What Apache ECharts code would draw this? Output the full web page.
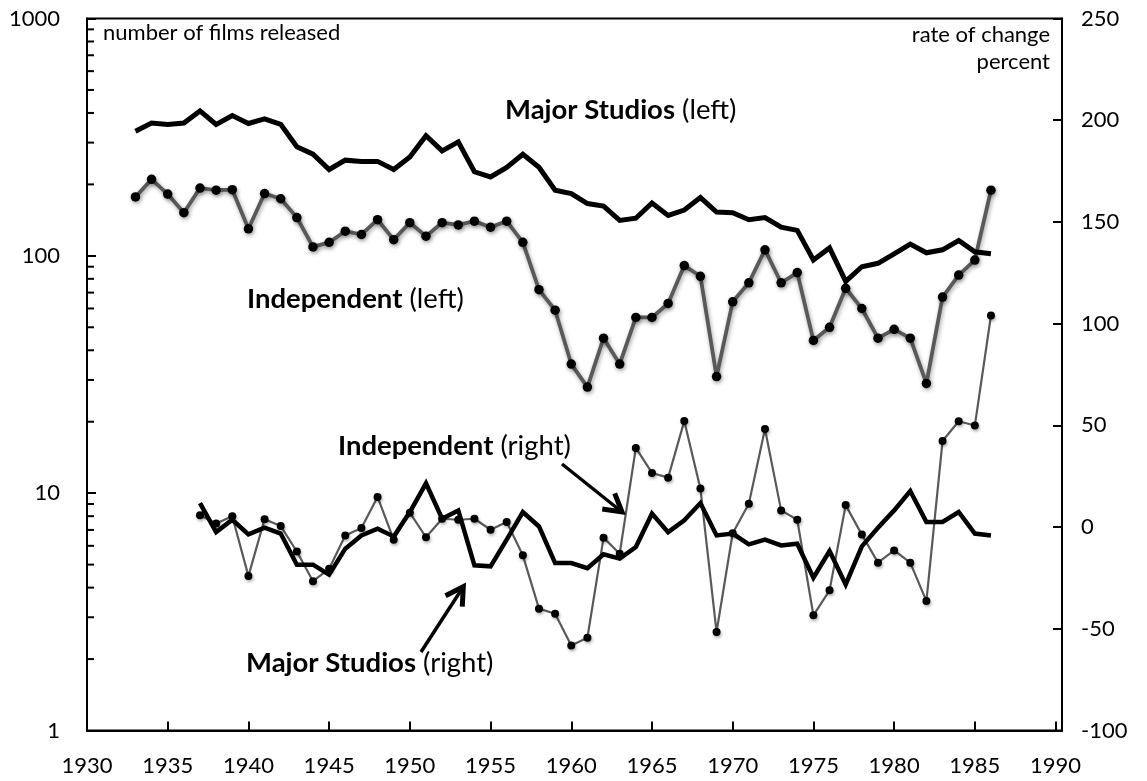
<!DOCTYPE html>
<html>
<head>
<meta charset="utf-8">
<script src="https://cdn.jsdelivr.net/npm/echarts@6.0.0/dist/echarts.min.js"></script>
<style>
html,body{margin:0;padding:0;background:#fff;}
#chart{width:1147px;height:781px;}
</style>
</head>
<body>
<div id="chart"></div>
<script>
// ---------- data ----------
const years = [1933,1934,1935,1936,1937,1938,1939,1940,1941,1942,
  1943,1944,1945,1946,1947,1948,1949,1950,1951,1952,
  1953,1954,1955,1956,1957,1958,1959,1960,1961,1962,
  1963,1964,1965,1966,1967,1968,1969,1970,1971,1972,
  1973,1974,1975,1976,1977,1978,1979,1980,1981,1982,
  1983,1984,1985,1986];
const majorFilms = [335,363,358,363,408,358,390,361,378,358,
  288,268,231,253,250,250,231,261,321,277,
  302,226,215,236,268,236,189,183,166,162,
  141,144,167,148,156,176,153,152,142,145,
  132,128,96,108,78,90,93,102,112,103,
  106,116,104,102];
const independentFilms = [177,210,182,152,193,189,190,130,183,174,
  145,109,114,127,123,142,117,138,121,138,
  135,140,132,140,114,72,59,35,28,45,
  35,55,55,63,91,82,31,64,77,106,
  77,85,44,50,73,60,45,49,45,29,
  67,83,96,189];
const rateYears = [1937,1938,1939,1940,1941,1942,
  1943,1944,1945,1946,1947,1948,1949,1950,1951,1952,
  1953,1954,1955,1956,1957,1958,1959,1960,1961,1962,
  1963,1964,1965,1966,1967,1968,1969,1970,1971,1972,
  1973,1974,1975,1976,1977,1978,1979,1980,1981,1982,
  1983,1984,1985,1986];
const majorRate = [11.8,-2.5,3.6,-3.6,-0.3,-3.2,
  -18.5,-18.5,-23.4,-10.6,-4.1,-0.8,-4.6,7.4,21.5,4.1,
  8.2,-18.8,-19.3,-6.2,7.4,0.3,-17.7,-17.7,-20.2,-13.4,
  -15.5,-9.8,6.6,-2.5,3.3,11.8,-4.1,-3.2,-8.5,-6.2,
  -9.0,-8.2,-24.9,-11.8,-28.2,-9.5,-0.3,8.2,17.7,2.5,
  2.5,7.4,-3.2,-4.1];
const independentRate = [5.8,1.7,5.3,-24.1,3.9,0.5,
  -12.0,-26.6,-20.5,-4.1,-0.5,14.8,-6.2,7.1,-5.0,4.1,
  3.6,4.1,-1.3,2.5,-13.9,-40.1,-42.6,-58.2,-54.4,-5.2,
  -13.1,38.9,26.6,24.3,52.1,18.9,-51.6,-3.0,11.5,48.2,
  8.2,3.6,-43.4,-31.1,10.8,-3.7,-17.5,-11.5,-17.5,-36.4,
  42.3,52.0,49.9,104.0];
const xTickLabels = [1930,1935,1940,1945,1950,1955,1960,1965,1970,1975,1980,1985,1990];
const leftTickLabels = [1,10,100,1000];
const rightTickLabels = [-100,-50,0,50,100,150,200,250];
const leftMinorTicks = [2,3,4,5,6,7,8,9,20,30,40,50,60,70,80,90,200,300,400,500,600,700,800,900];

// ---------- chart ----------
const FONT = 'Lato';
const pair = (xs, ys) => xs.map((x, i) => [x, ys[i]]);
const chart = echarts.init(document.getElementById('chart'), null, {renderer: 'canvas'});

const axisLineStyle = {color: '#000', width: 2};
const labelBase = {color: '#000', fontSize: 22, fontFamily: FONT};

function arrow(tail, head, barb) {
  const dx = head[0] - tail[0], dy = head[1] - tail[1];
  const len = Math.sqrt(dx * dx + dy * dy);
  const ux = -dx / len, uy = -dy / len;
  const a = Math.PI / 6;
  const b1 = [head[0] + barb * (Math.cos(a) * ux - Math.sin(a) * uy), head[1] + barb * (Math.sin(a) * ux + Math.cos(a) * uy)];
  const b2 = [head[0] + barb * (Math.cos(-a) * ux - Math.sin(-a) * uy), head[1] + barb * (Math.sin(-a) * ux + Math.cos(-a) * uy)];
  return [
    {type: 'polyline', shape: {points: [tail, head]}, style: {stroke: '#000', lineWidth: 3.5, fill: null}, z: 100},
    {type: 'polyline', shape: {points: [b1, head, b2]}, style: {stroke: '#000', lineWidth: 5, fill: null, lineJoin: 'miter'}, z: 100}
  ];
}

function note(x, y, bold, rest, size) {
  return {
    type: 'text', x: x, y: y, z: 100,
    style: {
      text: '{b|' + bold + '}' + rest,
      rich: {b: {fontWeight: 'bold', fontSize: size, fontFamily: FONT, fill: '#000'}},
      fontSize: size, fontFamily: FONT, fill: '#000',
      align: 'left', verticalAlign: 'middle'
    }
  };
}

const option = {
  backgroundColor: '#fff',
  animation: false,
  grid: {left: 87, right: 85, top: 18.5, bottom: 50.5, show: true, borderColor: '#000', borderWidth: 2, containLabel: false},
  xAxis: {
    type: 'value', min: 1930, max: 1990.4, interval: 5,
    axisLine: {show: true, onZero: false, lineStyle: axisLineStyle},
    axisTick: {show: true, inside: true, length: 9, lineStyle: {color: '#000', width: 2}},
    axisLabel: Object.assign({}, labelBase, {margin: 24, showMaxLabel: true,
      formatter: v => xTickLabels.indexOf(Math.round(v * 1000) / 1000) >= 0 ? String(v) : ''}),
    splitLine: {show: false}
  },
  yAxis: [
    {
      type: 'log', logBase: 10, min: 1, max: 1000, position: 'left',
      axisLine: {show: true, lineStyle: axisLineStyle},
      axisTick: {show: true, inside: true, length: 9, lineStyle: {color: '#000', width: 2}},
      axisLabel: Object.assign({}, labelBase, {margin: 27,
        formatter: v => leftTickLabels.indexOf(Math.round(v)) >= 0 ? String(Math.round(v)) : ''}),
      splitLine: {show: false}
    },
    {
      type: 'value', min: -100, max: 250, interval: 50, position: 'right',
      axisLine: {show: true, lineStyle: axisLineStyle},
      axisTick: {show: true, inside: true, length: 9, lineStyle: {color: '#000', width: 2}},
      axisLabel: Object.assign({}, labelBase, {margin: 19,
        formatter: v => rightTickLabels.indexOf(v) >= 0 ? String(v) : ''}),
      splitLine: {show: false}
    }
  ],
  series: [
    {
      name: 'minor ticks', type: 'custom', xAxisIndex: 0, yAxisIndex: 0, silent: true, clip: false,
      data: leftMinorTicks.map(v => [1930, v]),
      renderItem: function (params, api) {
        const p = api.coord([api.value(0), api.value(1)]);
        return {type: 'line', shape: {x1: p[0], y1: p[1], x2: p[0] + 7, y2: p[1]}, style: {stroke: '#000', lineWidth: 2}};
      },
      z: 1
    },
    {
      name: 'Major Studios (left)', type: 'line', yAxisIndex: 0,
      data: pair(years, majorFilms), showSymbol: false, symbol: 'none',
      lineStyle: {color: '#000', width: 5, join: 'miter'}, z: 5
    },
    {
      name: 'Independent (left)', type: 'line', yAxisIndex: 0,
      data: pair(years, independentFilms), symbol: 'circle', symbolSize: 9.5,
      itemStyle: {color: '#000', shadowColor: 'rgba(0,0,0,0.35)', shadowBlur: 4, shadowOffsetX: 1, shadowOffsetY: 2},
      lineStyle: {color: '#595959', width: 3.8, shadowColor: 'rgba(0,0,0,0.35)', shadowBlur: 4, shadowOffsetX: 1, shadowOffsetY: 2},
      z: 4
    },
    {
      name: 'Major Studios (right)', type: 'line', yAxisIndex: 1,
      data: pair(rateYears, majorRate), showSymbol: false, symbol: 'none',
      lineStyle: {color: '#000', width: 4.5, join: 'miter'}, z: 5
    },
    {
      name: 'Independent (right)', type: 'line', yAxisIndex: 1,
      data: pair(rateYears, independentRate), symbol: 'circle', symbolSize: 8,
      itemStyle: {color: '#000', shadowColor: 'rgba(0,0,0,0.3)', shadowBlur: 3, shadowOffsetX: 1, shadowOffsetY: 2},
      lineStyle: {color: '#595959', width: 2.2},
      z: 4
    }
  ],
  graphic: [
    {type: 'text', x: 103, y: 33, z: 100, style: {text: 'number of films released', fontSize: 22, fontFamily: FONT, fill: '#000', align: 'left', verticalAlign: 'middle'}},
    {type: 'text', x: 1050, y: 35, z: 100, style: {text: 'rate of change', fontSize: 22, fontFamily: FONT, fill: '#000', align: 'right', verticalAlign: 'middle'}},
    {type: 'text', x: 1050, y: 62, z: 100, style: {text: 'percent', fontSize: 22, fontFamily: FONT, fill: '#000', align: 'right', verticalAlign: 'middle'}},
    note(505, 110, 'Major Studios', ' (left)', 27.5),
    note(247, 299, 'Independent', ' (left)', 27.5),
    note(338, 446, 'Independent', ' (right)', 27.5),
    note(246, 663, 'Major Studios', ' (right)', 27.5)
  ].concat(arrow([562, 464], [622, 512], 20), arrow([421, 652], [463.3, 586.7], 20))
};
chart.setOption(option);
</script>
</body>
</html>
